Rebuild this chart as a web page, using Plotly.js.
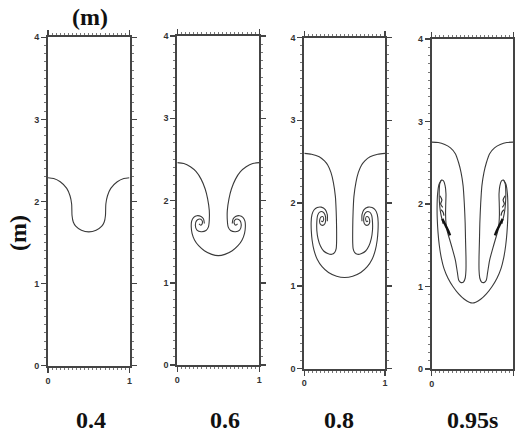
<!DOCTYPE html>
<html>
<head>
<meta charset="utf-8">
<script src="https://cdn.plot.ly/plotly-3.0.1.min.js"></script>
<style>html,body{margin:0;padding:0;background:#fff;}#chart{width:515px;height:432px;}</style>
</head>
<body>
<div id="chart"></div>
<script>
// ---- Data (interface contours, x in m, y in m) ----
const timeLabels = ["0.4", "0.6", "0.8", "0.95s"];
const yTicks = [0, 1, 2, 3, 4];
const xTicks = [0, 1];

// t = 0.4
const p1_x = [0, 0.07, 0.15, 0.23, 0.27, 0.29, 0.295, 0.31, 0.34, 0.41, 0.5, 0.59, 0.66, 0.69, 0.705, 0.71, 0.73, 0.77, 0.85, 0.93, 1];
const p1_y = [2.29, 2.28, 2.24, 2.16, 2.07, 1.97, 1.83, 1.75, 1.70, 1.65, 1.63, 1.65, 1.70, 1.75, 1.83, 1.97, 2.07, 2.16, 2.24, 2.28, 2.29];

// t = 0.6
const p2_stemL_x = [0, 0.08, 0.16, 0.23, 0.29, 0.34, 0.37, 0.39, 0.39, 0.38, 0.35, 0.29, 0.24, 0.22, 0.235, 0.27, 0.30, 0.305, 0.285, 0.265];
const p2_stemR_x = [1, 0.92, 0.84, 0.77, 0.71, 0.66, 0.63, 0.61, 0.61, 0.62, 0.65, 0.71, 0.76, 0.78, 0.765, 0.73, 0.70, 0.695, 0.715, 0.735];
const p2_stem_y = [2.46, 2.45, 2.41, 2.35, 2.26, 2.14, 2.02, 1.88, 1.76, 1.68, 1.635, 1.62, 1.64, 1.70, 1.755, 1.775, 1.76, 1.72, 1.70, 1.715];
const p2_cap_x = [0.33, 0.32, 0.29, 0.24, 0.20, 0.175, 0.17, 0.18, 0.21, 0.26, 0.33, 0.42, 0.5, 0.58, 0.67, 0.74, 0.79, 0.82, 0.83, 0.825, 0.80, 0.76, 0.71, 0.68, 0.67];
const p2_cap_y = [1.72, 1.775, 1.805, 1.815, 1.795, 1.75, 1.68, 1.60, 1.52, 1.45, 1.39, 1.345, 1.33, 1.345, 1.39, 1.45, 1.52, 1.60, 1.68, 1.75, 1.795, 1.815, 1.805, 1.775, 1.72];

// t = 0.8
const p3_stemL_x = [0, 0.09, 0.185, 0.25, 0.29, 0.33, 0.36, 0.385, 0.395, 0.40, 0.40, 0.395, 0.375, 0.34, 0.29, 0.24, 0.20, 0.17, 0.155, 0.155, 0.165, 0.19, 0.225, 0.255, 0.265, 0.255, 0.225, 0.195, 0.19, 0.205, 0.23, 0.24, 0.225, 0.21];
const p3_stemR_x = [1, 0.91, 0.815, 0.75, 0.71, 0.67, 0.64, 0.615, 0.605, 0.60, 0.60, 0.605, 0.625, 0.66, 0.71, 0.76, 0.80, 0.83, 0.845, 0.845, 0.835, 0.81, 0.775, 0.745, 0.735, 0.745, 0.775, 0.805, 0.81, 0.795, 0.77, 0.76, 0.775, 0.79];
const p3_stem_y = [2.60, 2.59, 2.56, 2.51, 2.46, 2.37, 2.25, 2.08, 1.90, 1.70, 1.52, 1.45, 1.40, 1.38, 1.39, 1.42, 1.48, 1.57, 1.67, 1.77, 1.85, 1.89, 1.895, 1.86, 1.80, 1.75, 1.73, 1.75, 1.79, 1.83, 1.835, 1.80, 1.775, 1.785];
const p3_cap_x = [0.285, 0.285, 0.26, 0.21, 0.16, 0.12, 0.095, 0.085, 0.087, 0.097, 0.12, 0.16, 0.22, 0.30, 0.40, 0.5, 0.60, 0.70, 0.78, 0.84, 0.88, 0.903, 0.913, 0.915, 0.905, 0.88, 0.84, 0.79, 0.74, 0.715, 0.715];
const p3_cap_y = [1.78, 1.86, 1.92, 1.95, 1.945, 1.915, 1.86, 1.77, 1.66, 1.55, 1.43, 1.32, 1.23, 1.16, 1.115, 1.10, 1.115, 1.16, 1.23, 1.32, 1.43, 1.55, 1.66, 1.77, 1.86, 1.915, 1.945, 1.95, 1.92, 1.86, 1.78];

// t = 0.95
const p4_stemL_x = [0, 0.08, 0.16, 0.23, 0.29, 0.33, 0.36, 0.385, 0.40, 0.41, 0.415, 0.42, 0.42, 0.41, 0.39, 0.355, 0.33, 0.315, 0.29, 0.255, 0.22, 0.19, 0.175, 0.17, 0.172, 0.175, 0.165, 0.145, 0.12, 0.10, 0.092, 0.095, 0.105, 0.12, 0.14];
const p4_stemR_x = [1, 0.92, 0.84, 0.77, 0.71, 0.67, 0.64, 0.615, 0.60, 0.59, 0.585, 0.58, 0.58, 0.59, 0.61, 0.645, 0.67, 0.685, 0.71, 0.745, 0.78, 0.81, 0.825, 0.83, 0.828, 0.825, 0.835, 0.855, 0.88, 0.90, 0.908, 0.905, 0.895, 0.88, 0.86];
const p4_stem_y = [2.75, 2.745, 2.72, 2.68, 2.61, 2.50, 2.38, 2.22, 2.00, 1.77, 1.55, 1.36, 1.20, 1.10, 1.055, 1.05, 1.08, 1.17, 1.32, 1.45, 1.57, 1.67, 1.77, 1.88, 2.00, 2.12, 2.22, 2.28, 2.29, 2.25, 2.15, 2.02, 1.92, 1.84, 1.76];
const p4_cap_x = [0.12, 0.09, 0.072, 0.066, 0.068, 0.078, 0.093, 0.117, 0.15, 0.20, 0.26, 0.33, 0.40, 0.46, 0.5, 0.54, 0.60, 0.67, 0.74, 0.80, 0.85, 0.883, 0.907, 0.922, 0.932, 0.934, 0.928, 0.91, 0.88];
const p4_cap_y = [2.29, 2.24, 2.12, 1.97, 1.82, 1.65, 1.50, 1.35, 1.22, 1.10, 1.00, 0.91, 0.845, 0.81, 0.80, 0.81, 0.845, 0.91, 1.00, 1.10, 1.22, 1.35, 1.50, 1.65, 1.82, 1.97, 2.12, 2.24, 2.29];
const p4_streak_x = [0.13, 0.155, 0.18, 0.205, 0.225, null, 0.87, 0.845, 0.82, 0.795, 0.775];
const p4_streak_y = [1.82, 1.77, 1.72, 1.67, 1.62, null, 1.82, 1.77, 1.72, 1.67, 1.62];
const p4_bits_x = [0.10, 0.125, 0.11, 0.135, null, 0.115, 0.14, 0.15, null, 0.90, 0.875, 0.89, 0.865, null, 0.885, 0.86, 0.85];
const p4_bits_y = [2.10, 2.05, 2.00, 1.96, null, 1.93, 1.90, 1.86, null, 2.10, 2.05, 2.00, 1.96, null, 1.93, 1.90, 1.86];

// ---- Build traces ----
const LINE = {color: '#3a3a3a', width: 1.1, shape: 'spline', smoothing: 0.7};
function tr(x, y, ax, line) {
  return {x: x, y: y, xaxis: 'x' + ax, yaxis: 'y' + ax, type: 'scatter', mode: 'lines',
          line: line || LINE, hoverinfo: 'skip', showlegend: false, connectgaps: false};
}
const traces = [
  tr(p1_x, p1_y, ''),
  tr(p2_stemL_x, p2_stem_y, '2'), tr(p2_stemR_x, p2_stem_y, '2'), tr(p2_cap_x, p2_cap_y, '2'),
  tr(p3_stemL_x, p3_stem_y, '3'), tr(p3_stemR_x, p3_stem_y, '3'), tr(p3_cap_x, p3_cap_y, '3'),
  tr(p4_stemL_x, p4_stem_y, '4'), tr(p4_stemR_x, p4_stem_y, '4'), tr(p4_cap_x, p4_cap_y, '4'),
  tr(p4_streak_x, p4_streak_y, '4', {color: '#111', width: 2.4, shape: 'spline'}),
  tr(p4_bits_x, p4_bits_y, '4', {color: '#333', width: 1.2, shape: 'spline'})
];
// fix axis ids for first panel
traces.forEach(t => { if (t.xaxis === 'x') { t.xaxis = 'x'; t.yaxis = 'y'; } });

const W = 515, H = 432;
const panels = [
  {x0: 48, x1: 129.5, top: 37.3, bot: 365.7},
  {x0: 177.3, x1: 259.3, top: 36, bot: 365},
  {x0: 304.3, x1: 385, top: 37.5, bot: 368.5},
  {x0: 431.7, x1: 513.3, top: 39, bot: 369}
];
const tickFont = {family: 'Liberation Sans, Arial, sans-serif', size: 9, color: '#333', weight: 'bold'};
function axisCfg(isX, domain, anchor) {
  return {
    domain: domain, anchor: anchor,
    range: isX ? [0, 1] : [0, 4],
    tickmode: 'array', tickvals: isX ? xTicks : yTicks, ticktext: (isX ? xTicks : yTicks).map(String),
    showline: true, linecolor: '#444', linewidth: 2, mirror: 'allticks',
    ticks: 'outside', ticklen: 5, tickwidth: 1.5, tickcolor: '#444',
    minor: {dtick: isX ? 0.05 : 0.1, tick0: 0, ticks: 'outside', ticklen: 2, tickwidth: 1, tickcolor: '#777'},
    showgrid: false, zeroline: false, fixedrange: true,
    tickfont: tickFont
  };
}
const layout = {
  width: W, height: H, margin: {l: 0, r: 0, t: 0, b: 0},
  paper_bgcolor: '#fff', plot_bgcolor: '#fff', showlegend: false,
  annotations: []
};
panels.forEach((p, i) => {
  const s = i === 0 ? '' : String(i + 1);
  layout['xaxis' + s] = axisCfg(true, [p.x0 / W, p.x1 / W], 'y' + s);
  layout['yaxis' + s] = axisCfg(false, [(H - p.bot) / H, (H - p.top) / H], 'x' + s);
});
const serif = {family: 'Liberation Serif, Times New Roman, serif', size: 24, color: '#111', weight: 'bold'};
layout.annotations.push({text: '(m)', x: 90 / W, y: (H - 17) / H, xref: 'paper', yref: 'paper', showarrow: false, font: serif, xanchor: 'center', yanchor: 'middle'});
layout.annotations.push({text: '(m)', x: 18 / W, y: (H - 233) / H, xref: 'paper', yref: 'paper', showarrow: false, font: serif, textangle: -90, xanchor: 'center', yanchor: 'middle'});
const labelX = [91, 225, 339, 472];
timeLabels.forEach((t, i) => {
  layout.annotations.push({text: t, x: labelX[i] / W, y: (H - 420) / H, xref: 'paper', yref: 'paper', showarrow: false, font: serif, xanchor: 'center', yanchor: 'middle'});
});

Plotly.newPlot('chart', traces, layout, {staticPlot: true, displayModeBar: false});
</script>
</body>
</html>
